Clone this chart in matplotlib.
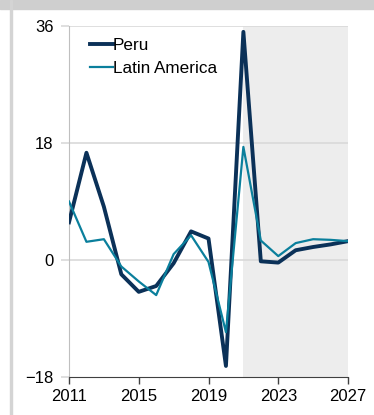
import numpy as np
import matplotlib.pyplot as plt
from matplotlib.patches import Rectangle

plt.rcParams['font.family'] = ['Liberation Sans', 'DejaVu Sans']

years = list(range(2011, 2028))
peru = [5.8, 16.5, 8.2, -2.2, -4.9, -4.0, -0.5, 4.4, 3.3, -16.3, 35.1,
        -0.2, -0.4, 1.5, 2.0, 2.4, 2.9]
latam = [9.0, 2.8, 3.2, -1.0, -3.3, -5.4, 0.9, 3.8, -0.3, -11.1, 17.4,
         3.0, 0.6, 2.6, 3.2, 3.1, 2.9]
forecast_start = 2021
yticks = [-18, 0, 18, 36]
xticks = [2011, 2015, 2019, 2023, 2027]

fig = plt.figure(figsize=(3.74, 4.15), dpi=100)
ax = fig.add_axes([0.1845, 0.0916, 0.746, 0.8457])

# frame bits around the chart
fig.patches.append(Rectangle((0, 1 - 9 / 415), 1, 9 / 415, transform=fig.transFigure,
                             color='#cfcfcf', zorder=0))
fig.patches.append(Rectangle((10 / 374, 0), 2 / 374, 1, transform=fig.transFigure,
                             color='#d4d4d4', zorder=0))

ax.axvspan(forecast_start, years[-1], color='#ededed', lw=0, zorder=0)
for y in [0, 18, 36]:
    ax.axhline(y, color='#d9d9d9', lw=1.2, zorder=1)

ax.plot(years, peru, color='#0b3158', lw=2.8, label='Peru', zorder=3)
ax.plot(years, latam, color='#0a7f9c', lw=1.6, label='Latin America', zorder=4)

ax.set_xlim(2011, 2027)
ax.set_ylim(-18, 36)
ax.set_xticks(xticks)
ax.set_yticks(yticks)
ax.tick_params(axis='x', length=5, width=1, color='#404040', labelsize=12, pad=4)
ax.tick_params(axis='y', length=6, width=1.2, color='#d9d9d9', labelsize=12, pad=5)

for s in ['top', 'right']:
    ax.spines[s].set_visible(False)
ax.spines['left'].set_color('#bfbfbf')
ax.spines['bottom'].set_color('#404040')

ax.legend(loc='upper left', bbox_to_anchor=(0.04, 0.995), frameon=False, fontsize=12.3,
          handlelength=1.3, handletextpad=0.0, borderaxespad=0.2, labelspacing=0.45)

fig.savefig('out.png', dpi=100)
